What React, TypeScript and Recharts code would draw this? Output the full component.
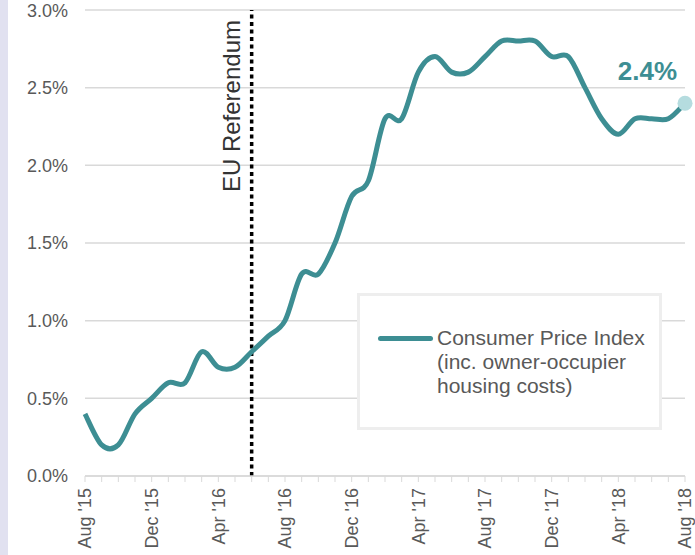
import { LineChart, Line, XAxis, YAxis, CartesianGrid, ReferenceLine, Legend } from "recharts";

const months = [
  "Aug '15", "Sep '15", "Oct '15", "Nov '15", "Dec '15", "Jan '16", "Feb '16", "Mar '16", "Apr '16",
  "May '16", "Jun '16", "Jul '16", "Aug '16", "Sep '16", "Oct '16", "Nov '16", "Dec '16", "Jan '17",
  "Feb '17", "Mar '17", "Apr '17", "May '17", "Jun '17", "Jul '17", "Aug '17", "Sep '17", "Oct '17",
  "Nov '17", "Dec '17", "Jan '18", "Feb '18", "Mar '18", "Apr '18", "May '18", "Jun '18", "Jul '18",
  "Aug '18",
];

const cpih = [
  0.4, 0.2, 0.2, 0.4, 0.5, 0.6, 0.6, 0.8, 0.7, 0.7, 0.8, 0.9, 1.0, 1.3, 1.3, 1.5, 1.8, 1.9, 2.3,
  2.3, 2.6, 2.7, 2.6, 2.6, 2.7, 2.8, 2.8, 2.8, 2.7, 2.7, 2.5, 2.3, 2.2, 2.3, 2.3, 2.3, 2.4,
];

const yTicks = [0, 0.5, 1, 1.5, 2, 2.5, 3];
const referendumMonth = "Jun '16";

const data = months.map((month, i) => ({ month, cpih: cpih[i] }));

const TEAL = "#3d8e93";
const FONT = "'Liberation Sans', Arial, sans-serif";

// catmull-rom style smoothing, passes through every point like the original
const smoothCurve = (context: any) => {
  let pts: number[][] = [];
  return {
    areaStart() {},
    areaEnd() {},
    lineStart() { pts = []; },
    point(x: number, y: number) { pts.push([+x, +y]); },
    lineEnd() {
      if (!pts.length) return;
      context.moveTo(pts[0][0], pts[0][1]);
      for (let i = 0; i < pts.length - 1; i++) {
        const p0 = pts[i - 1] || pts[i];
        const p1 = pts[i];
        const p2 = pts[i + 1];
        const p3 = pts[i + 2] || p2;
        context.bezierCurveTo(
          p1[0] + (p2[0] - p0[0]) / 6, p1[1] + (p2[1] - p0[1]) / 6,
          p2[0] - (p3[0] - p1[0]) / 6, p2[1] - (p3[1] - p1[1]) / 6,
          p2[0], p2[1],
        );
      }
    },
  };
};

const XTick = (props: any) => {
  const { x, y, payload, index } = props;
  if (index % 4 !== 0) return null;
  const ty = y + 4;
  return (
    <text x={x} y={ty} dy="0.35em" transform={`rotate(-90 ${x} ${ty})`} textAnchor="end"
      fontSize={18} fill="#595959" fontFamily={FONT}>
      {payload.value}
    </text>
  );
};

const RefLabel = (props: any) => {
  const vb = props.viewBox || {};
  const x = vb.x - 12;
  const y = vb.y + 10;
  return (
    <text x={x} y={y} transform={`rotate(-90 ${x} ${y})`} textAnchor="end" fontSize={24}
      fill="#333" fontFamily={FONT}>
      EU Referendum
    </text>
  );
};

const LastDot = (props: any) => {
  const { cx, cy, index } = props;
  if (index !== cpih.length - 1) return null;
  return <circle key="last" cx={cx} cy={cy} r={7.5} fill="#b5dcdf" />;
};

const LastLabel = (props: any) => {
  const { x, y, index, value } = props;
  if (index !== cpih.length - 1) return null;
  return (
    <text x={x - 8} y={y - 23} textAnchor="end" fontSize={26} fontWeight="bold" fill={TEAL}
      fontFamily={FONT}>
      {value.toFixed(1)}%
    </text>
  );
};

const LegendBox = () => (
  <div style={{ boxSizing: "border-box", width: 305, height: 137, border: "3px solid #eeeeee",
    background: "#fff", position: "relative", fontFamily: FONT }}>
    <div style={{ position: "absolute", left: 18, top: 40, width: 55, height: 5, borderRadius: 3,
      background: TEAL }} />
    <div style={{ position: "absolute", left: 77, top: 30, fontSize: 21, lineHeight: "24px",
      color: "#595959", whiteSpace: "nowrap", textAlign: "left" }}>
      Consumer Price Index<br />(inc. owner-occupier<br />housing costs)
    </div>
  </div>
);

export default function App() {
  return (
    <div style={{ position: "absolute", left: 0, top: 0, width: 695, height: 555, background: "#fff" }}>
      <div style={{ position: "absolute", left: 0, top: 0, width: 8, height: 555, background: "#e1e1f0" }} />
      <LineChart width={695} height={555} data={data} margin={{ top: 10, right: 10, left: 0, bottom: 0 }}>
        <CartesianGrid vertical={false} stroke="#d9d9d9" strokeWidth={1.5} />
        <XAxis dataKey="month" interval={0} tick={<XTick />} height={79} tickSize={6}
          stroke="#d9d9d9" tickLine={{ stroke: "#d9d9d9" }} axisLine={{ stroke: "#d9d9d9", strokeWidth: 1.5 }} />
        <YAxis domain={[0, 3]} ticks={yTicks} width={85} axisLine={false} tickLine={false}
          tickMargin={11} tickFormatter={(v: number) => `${v.toFixed(1)}%`}
          tick={{ fontSize: 18, fill: "#595959", fontFamily: FONT }} />
        <ReferenceLine x={referendumMonth} stroke="#000" strokeWidth={3.5} strokeDasharray="4 3.5"
          label={RefLabel} />
        <Legend layout="vertical" align="center" verticalAlign="middle" content={<LegendBox />}
          wrapperStyle={{ left: 357, top: 293, width: 305, height: 137 }} />
        <Line dataKey="cpih" type={smoothCurve as any} stroke={TEAL} strokeWidth={5} dot={LastDot}
          activeDot={false} isAnimationActive={false} label={LastLabel} />
      </LineChart>
    </div>
  );
}
